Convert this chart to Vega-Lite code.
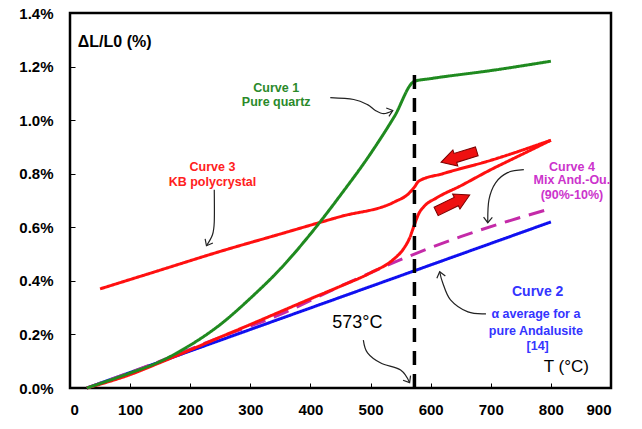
{
  "$schema": "https://vega.github.io/schema/vega-lite/v6.json",
  "width": 541,
  "height": 375,
  "autosize": {"type": "none"},
  "padding": {"left": 70, "top": 13, "right": 31, "bottom": 41},
  "background": "white",
  "config": {
    "view": {"stroke": "black", "strokeWidth": 2.5},
    "font": "Liberation Sans",
    "axis": {
      "domain": false, "grid": false, "tickColor": "black", "tickSize": -5, "tickWidth": 1,
      "labelFont": "Liberation Sans", "labelFontSize": 15, "labelFontWeight": "bold", "labelColor": "black", "title": null
    }
  },
  "datasets": {
    "curves": [
      {"s": "c2", "i": 0, "T": 28, "y": 0},
      {"s": "c2", "i": 1, "T": 800, "y": 0.0062},
      {"s": "c4", "i": 0, "T": 28, "y": 0},
      {"s": "c4", "i": 1, "T": 150, "y": 0.001},
      {"s": "c4", "i": 2, "T": 250, "y": 0.0019},
      {"s": "c4", "i": 3, "T": 345, "y": 0.0027},
      {"s": "c4", "i": 4, "T": 450, "y": 0.0038},
      {"s": "c4", "i": 5, "T": 573, "y": 0.005},
      {"s": "c4", "i": 6, "T": 650, "y": 0.00565},
      {"s": "c4", "i": 7, "T": 800, "y": 0.0067},
      {"s": "c3h", "i": 0, "T": 28, "y": 0},
      {"s": "c3h", "i": 1, "T": 100, "y": 0.0005},
      {"s": "c3h", "i": 2, "T": 150, "y": 0.00095},
      {"s": "c3h", "i": 3, "T": 200, "y": 0.00142},
      {"s": "c3h", "i": 4, "T": 250, "y": 0.0019},
      {"s": "c3h", "i": 5, "T": 300, "y": 0.00237},
      {"s": "c3h", "i": 6, "T": 350, "y": 0.00285},
      {"s": "c3h", "i": 7, "T": 400, "y": 0.00333},
      {"s": "c3h", "i": 8, "T": 450, "y": 0.0038},
      {"s": "c3h", "i": 9, "T": 500, "y": 0.0043},
      {"s": "c3h", "i": 10, "T": 538, "y": 0.0048},
      {"s": "c3h", "i": 11, "T": 555, "y": 0.0052},
      {"s": "c3h", "i": 12, "T": 565, "y": 0.0056},
      {"s": "c3h", "i": 13, "T": 573, "y": 0.0061},
      {"s": "c3h", "i": 14, "T": 580, "y": 0.0065},
      {"s": "c3h", "i": 15, "T": 590, "y": 0.0068},
      {"s": "c3h", "i": 16, "T": 610, "y": 0.0071},
      {"s": "c3h", "i": 17, "T": 650, "y": 0.00755},
      {"s": "c3h", "i": 18, "T": 700, "y": 0.00815},
      {"s": "c3h", "i": 19, "T": 750, "y": 0.0087},
      {"s": "c3h", "i": 20, "T": 800, "y": 0.00925},
      {"s": "c3c", "i": 0, "T": 50, "y": 0.0037},
      {"s": "c3c", "i": 1, "T": 150, "y": 0.0044},
      {"s": "c3c", "i": 2, "T": 250, "y": 0.0051},
      {"s": "c3c", "i": 3, "T": 350, "y": 0.00575},
      {"s": "c3c", "i": 4, "T": 450, "y": 0.0064},
      {"s": "c3c", "i": 5, "T": 540, "y": 0.00695},
      {"s": "c3c", "i": 6, "T": 563, "y": 0.00725},
      {"s": "c3c", "i": 7, "T": 573, "y": 0.0075},
      {"s": "c3c", "i": 8, "T": 580, "y": 0.00772},
      {"s": "c3c", "i": 9, "T": 620, "y": 0.008},
      {"s": "c3c", "i": 10, "T": 700, "y": 0.0085},
      {"s": "c3c", "i": 11, "T": 800, "y": 0.00925},
      {"s": "c1", "i": 0, "T": 28, "y": 0},
      {"s": "c1", "i": 1, "T": 100, "y": 0.00056},
      {"s": "c1", "i": 2, "T": 150, "y": 0.00099},
      {"s": "c1", "i": 3, "T": 200, "y": 0.0016},
      {"s": "c1", "i": 4, "T": 250, "y": 0.00237},
      {"s": "c1", "i": 5, "T": 300, "y": 0.00335},
      {"s": "c1", "i": 6, "T": 350, "y": 0.00445},
      {"s": "c1", "i": 7, "T": 400, "y": 0.00575},
      {"s": "c1", "i": 8, "T": 450, "y": 0.0072},
      {"s": "c1", "i": 9, "T": 500, "y": 0.00875},
      {"s": "c1", "i": 10, "T": 540, "y": 0.01015},
      {"s": "c1", "i": 11, "T": 573, "y": 0.01145},
      {"s": "c1", "i": 12, "T": 600, "y": 0.01155},
      {"s": "c1", "i": 13, "T": 700, "y": 0.01185},
      {"s": "c1", "i": 14, "T": 800, "y": 0.0122}
    ],
    "marker": [{"T": 573, "y": 0, "y2": 0.0118}],
    "leaders": [
      {"id": "c1", "i": 0, "T": 433, "y": 0.01084},
      {"id": "c1", "i": 1, "T": 472, "y": 0.01077},
      {"id": "c1", "i": 2, "T": 495, "y": 0.01058},
      {"id": "c1", "i": 3, "T": 508, "y": 0.01036},
      {"id": "c1", "i": 4, "T": 522, "y": 0.01024},
      {"id": "c1", "i": 5, "T": 537, "y": 0.01036},
      {"id": "c3", "i": 0, "T": 240, "y": 0.0074},
      {"id": "c3", "i": 1, "T": 240, "y": 0.0062},
      {"id": "c3", "i": 2, "T": 237, "y": 0.00572},
      {"id": "c3", "i": 3, "T": 227, "y": 0.00531},
      {"id": "c4", "i": 0, "T": 755, "y": 0.00815},
      {"id": "c4", "i": 1, "T": 728, "y": 0.00804},
      {"id": "c4", "i": 2, "T": 708, "y": 0.00766},
      {"id": "c4", "i": 3, "T": 697, "y": 0.00703},
      {"id": "c4", "i": 4, "T": 695, "y": 0.00617},
      {"id": "c2", "i": 0, "T": 692, "y": 0.00277},
      {"id": "c2", "i": 1, "T": 662, "y": 0.00284},
      {"id": "c2", "i": 2, "T": 633, "y": 0.00329},
      {"id": "c2", "i": 3, "T": 620, "y": 0.00393},
      {"id": "c2", "i": 4, "T": 615, "y": 0.00434},
      {"id": "t", "i": 0, "T": 488, "y": 0.00179},
      {"id": "t", "i": 1, "T": 495, "y": 0.00131},
      {"id": "t", "i": 2, "T": 517, "y": 0.00093},
      {"id": "t", "i": 3, "T": 550, "y": 0.00067},
      {"id": "t", "i": 4, "T": 565, "y": 0.0002}
    ],
    "heads": [
      {"id": "c1", "T": 537, "y": 0.01036, "dir": 342},
      {"id": "c3", "T": 227, "y": 0.00531, "dir": 118},
      {"id": "c4", "T": 695, "y": 0.00617, "dir": 92},
      {"id": "c2", "T": 615, "y": 0.00434, "dir": 255},
      {"id": "t", "T": 565, "y": 0.0002, "dir": 59}
    ],
    "blocks": [
      {"T": 647, "y": 0.00863, "dir": 163},
      {"T": 637, "y": 0.0069, "dir": 334}
    ],
    "labels": [
      {"g": "c1", "label": "Curve 1", "T": 343, "y": 0.01121},
      {"g": "c1", "label": "Pure quartz", "T": 343, "y": 0.01069},
      {"g": "c3", "label": "Curve 3", "T": 237, "y": 0.00826},
      {"g": "c3", "label": "KB polycrystal", "T": 237, "y": 0.0077},
      {"g": "c4", "label": "Curve 4", "T": 835, "y": 0.00826},
      {"g": "c4", "label": "Mix And.-Ou.", "T": 835, "y": 0.00778},
      {"g": "c4", "label": "(90%-10%)", "T": 835, "y": 0.00721},
      {"g": "c2t", "label": "Curve 2", "T": 778, "y": 0.00359},
      {"g": "c2", "label": "α average for a", "T": 775, "y": 0.00277},
      {"g": "c2", "label": "pure Andalusite", "T": 775, "y": 0.00213},
      {"g": "c2", "label": "[14]", "T": 778, "y": 0.00157},
      {"g": "t573", "label": "573°C", "T": 478, "y": 0.00243},
      {"g": "ylab", "label": "ΔL/L0 (%)", "T": 13, "y": 0.0129},
      {"g": "xlab", "label": "T (°C)", "T": 788, "y": 0.00079}
    ]
  },
  "layer": [
    {
      "data": {"name": "curves"},
      "mark": {"type": "line", "interpolate": "monotone"},
      "encoding": {
        "x": {"field": "T", "type": "quantitative", "scale": {"domain": [0, 900], "nice": false},
              "axis": {"values": [0, 100, 200, 300, 400, 500, 600, 700, 800, 900], "labelPadding": 19}},
        "y": {"field": "y", "type": "quantitative", "scale": {"domain": [0, 0.014], "nice": false},
              "axis": {"values": [0, 0.002, 0.004, 0.006, 0.008, 0.01, 0.012, 0.014], "format": ".1%", "labelPadding": 22}},
        "color": {"field": "s", "type": "nominal", "legend": null,
                  "scale": {"domain": ["c2", "c4", "c3h", "c3c", "c1"], "range": ["#1010f0", "#c42aa8", "#ff1010", "#ff1010", "#1f8a1f"]}},
        "strokeWidth": {"field": "s", "type": "nominal", "legend": null,
                  "scale": {"domain": ["c2", "c4", "c3h", "c3c", "c1"], "range": [3, 3, 2, 2, 3]}},
        "strokeDash": {"field": "s", "type": "nominal", "legend": null,
                  "scale": {"domain": ["c2", "c4", "c3h", "c3c", "c1"], "range": [[1, 0], [16, 9], [1, 0], [1, 0], [1, 0]]}},
        "order": {"field": "i", "type": "quantitative"}
      }
    },
    {
      "data": {"name": "marker"},
      "mark": {"type": "rule", "color": "black", "strokeWidth": 3.5, "strokeDash": [14, 9]},
      "encoding": {
        "x": {"field": "T", "type": "quantitative"},
        "y": {"field": "y", "type": "quantitative"},
        "y2": {"field": "y2"}
      }
    },
    {
      "data": {"name": "leaders"},
      "mark": {"type": "line", "interpolate": "cardinal", "color": "#222222", "strokeWidth": 1.2},
      "encoding": {
        "x": {"field": "T", "type": "quantitative"},
        "y": {"field": "y", "type": "quantitative"},
        "detail": {"field": "id"},
        "order": {"field": "i", "type": "quantitative"}
      }
    },
    {
      "data": {"name": "heads"},
      "mark": {"type": "point", "shape": "M-1,-0.8L0,0L-1,0.8", "filled": false, "stroke": "#222222", "strokeWidth": 1.2, "size": 120, "opacity": 1},
      "encoding": {
        "x": {"field": "T", "type": "quantitative"},
        "y": {"field": "y", "type": "quantitative"},
        "angle": {"field": "dir", "type": "quantitative", "scale": null}
      }
    },
    {
      "data": {"name": "blocks"},
      "mark": {"type": "point", "shape": "M-1,-0.25L0.2,-0.25L0.2,-0.45L1,0L0.2,0.45L0.2,0.25L-1,0.25Z", "filled": true, "fill": "#ee1111", "stroke": "#7a0000", "strokeWidth": 1, "size": 1400, "opacity": 1},
      "encoding": {
        "x": {"field": "T", "type": "quantitative"},
        "y": {"field": "y", "type": "quantitative"},
        "angle": {"field": "dir", "type": "quantitative", "scale": null}
      }
    },
    {
      "data": {"name": "labels"},
      "transform": [{"filter": "datum.g == 'c1'"}],
      "mark": {"type": "text", "font": "Liberation Sans", "fontWeight": "bold", "fontSize": 12.5, "color": "#2a8a2a", "baseline": "middle", "align": "center"},
      "encoding": {"x": {"field": "T", "type": "quantitative"}, "y": {"field": "y", "type": "quantitative"}, "text": {"field": "label"}}
    },
    {
      "data": {"name": "labels"},
      "transform": [{"filter": "datum.g == 'c3'"}],
      "mark": {"type": "text", "font": "Liberation Sans", "fontWeight": "bold", "fontSize": 12.5, "color": "#ff2020", "baseline": "middle", "align": "center"},
      "encoding": {"x": {"field": "T", "type": "quantitative"}, "y": {"field": "y", "type": "quantitative"}, "text": {"field": "label"}}
    },
    {
      "data": {"name": "labels"},
      "transform": [{"filter": "datum.g == 'c4'"}],
      "mark": {"type": "text", "font": "Liberation Sans", "fontWeight": "bold", "fontSize": 12.5, "color": "#cc33cc", "baseline": "middle", "align": "center"},
      "encoding": {"x": {"field": "T", "type": "quantitative"}, "y": {"field": "y", "type": "quantitative"}, "text": {"field": "label"}}
    },
    {
      "data": {"name": "labels"},
      "transform": [{"filter": "datum.g == 'c2'"}],
      "mark": {"type": "text", "font": "Liberation Sans", "fontWeight": "bold", "fontSize": 12.5, "color": "#3434ff", "baseline": "middle", "align": "center"},
      "encoding": {"x": {"field": "T", "type": "quantitative"}, "y": {"field": "y", "type": "quantitative"}, "text": {"field": "label"}}
    },
    {
      "data": {"name": "labels"},
      "transform": [{"filter": "datum.g == 'c2t'"}],
      "mark": {"type": "text", "font": "Liberation Sans", "fontWeight": "bold", "fontSize": 14, "color": "#3434ff", "baseline": "middle", "align": "center"},
      "encoding": {"x": {"field": "T", "type": "quantitative"}, "y": {"field": "y", "type": "quantitative"}, "text": {"field": "label"}}
    },
    {
      "data": {"name": "labels"},
      "transform": [{"filter": "datum.g == 't573'"}],
      "mark": {"type": "text", "font": "Liberation Sans", "fontSize": 18, "color": "black", "baseline": "middle", "align": "center"},
      "encoding": {"x": {"field": "T", "type": "quantitative"}, "y": {"field": "y", "type": "quantitative"}, "text": {"field": "label"}}
    },
    {
      "data": {"name": "labels"},
      "transform": [{"filter": "datum.g == 'ylab'"}],
      "mark": {"type": "text", "font": "Liberation Sans", "fontWeight": "bold", "fontSize": 16, "color": "black", "baseline": "middle", "align": "left"},
      "encoding": {"x": {"field": "T", "type": "quantitative"}, "y": {"field": "y", "type": "quantitative"}, "text": {"field": "label"}}
    },
    {
      "data": {"name": "labels"},
      "transform": [{"filter": "datum.g == 'xlab'"}],
      "mark": {"type": "text", "font": "Liberation Sans", "fontSize": 17, "color": "black", "baseline": "middle", "align": "left"},
      "encoding": {"x": {"field": "T", "type": "quantitative"}, "y": {"field": "y", "type": "quantitative"}, "text": {"field": "label"}}
    }
  ]
}
